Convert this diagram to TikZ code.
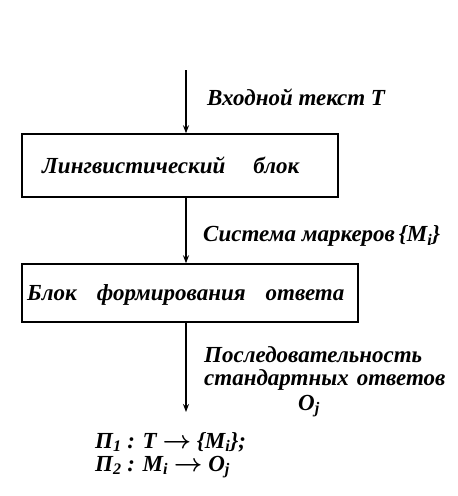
\documentclass[tikz,border=0pt]{standalone}
\usepackage{fontspec}
\setmainfont{Liberation Serif}
\usetikzlibrary{arrows.meta}
\newcommand{\sbs}[1]{\textsubscript{#1}}
\begin{document}
\begin{tikzpicture}[x=1pt,y=-1pt,
  box/.style={draw,line width=1.4pt,minimum height=0pt,inner sep=0pt},
  lbl/.style={font=\fontsize{23}{23}\selectfont\itshape\bfseries\boldmath,anchor=west,inner sep=0pt},
  flow/.style={line width=1.6pt,-{Stealth[length=8pt,width=6pt]}}]
\useasboundingbox (0,0) rectangle (458,496);
\fill[white] (0,0) rectangle (458,496);
\node[box,minimum width=316pt,minimum height=63pt] (b1) at (180,165.5) {};
\node[lbl,anchor=west] (t1) at (42,165) {Лингвистический\hspace{28pt}блок};
\node[box,minimum width=336pt,minimum height=58pt] (b2) at (190,293) {};
\node[lbl,anchor=west] (t2) at (27,295) {Блок\hspace{20pt}формирования\hspace{20pt}ответа};
\coordinate (s0) at (186,70);
\draw[flow] (s0) -- (s0 |- b1.north);
\draw[flow] (b1.south -| s0) -- (s0 |- b2.north);
\coordinate (e3) at (186,412);
\draw[flow] (b2.south -| s0) -- (e3);
\node[lbl] (l1) at (207,97) {Входной текст \textit{T}};
\node[lbl] (l2) at (203,236) {Система маркеров\,\{\textit{M}\sbs{i}\}};
\node[lbl,align=left,anchor=north west] (l3) at (204,346) {Последовательность\\стандартных\hspace{8pt}ответов};
\node[lbl] (l4) at (298,406) {\textit{O}\sbs{j}};
\node[lbl] (f1) at (95,442) {П\sbs{1} : \textit{T} $\rightarrow$ \{\textit{M}\sbs{i}\};};
\node[lbl] (f2) at (95,467) {П\sbs{2} : \textit{M}\sbs{i} $\rightarrow$ \textit{O}\sbs{j}};
\end{tikzpicture}
\end{document}
